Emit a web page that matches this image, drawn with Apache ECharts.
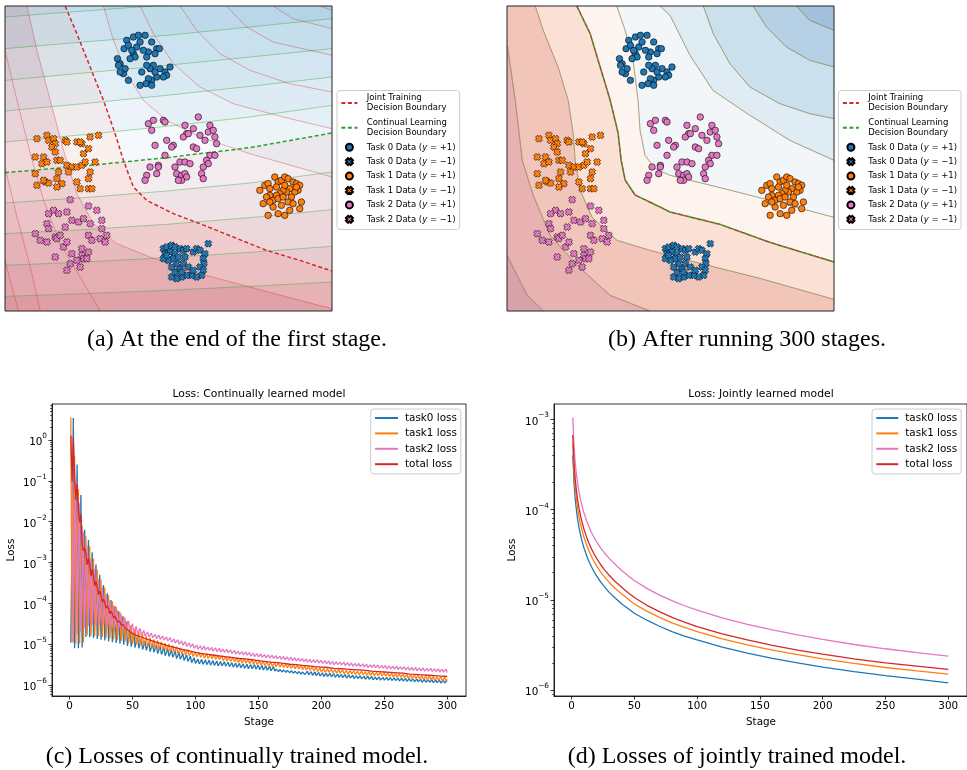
<!DOCTYPE html>
<html>
<head>
<meta charset="utf-8">
<script src="https://cdn.jsdelivr.net/npm/echarts@6/dist/echarts.min.js"></script>
<style>
html,body{margin:0;padding:0;background:#fff;}
#chart{width:967px;height:770px;}
</style>
</head>
<body>
<div id="chart"></div>
<script>
// ---------------- 2-D toy data (feature space, shared by panels a and b) ----------------
const task0Pos = [[3.52,1.75],[3.60,1.90],[3.72,1.45],[3.80,1.20],[3.85,1.35],[4.00,1.10],[4.15,1.05],[4.35,1.05],[4.55,1.25],[4.70,1.45],[4.78,1.45],[4.65,1.60],[4.45,1.55],[4.30,1.50],[4.10,1.40],[4.00,1.60],[4.05,1.70],[3.90,1.75],[4.40,1.70],[4.60,1.95],[4.80,2.05],[4.95,2.15],[5.10,2.00],[5.00,2.25],[4.90,2.30],[4.70,2.30],[4.55,2.40],[4.45,2.35],[4.38,2.50],[4.20,2.55],[4.55,2.55],[3.85,2.40],[3.70,2.20],[3.60,2.15],[3.75,2.05],[3.55,1.95],[4.25,2.15],[4.50,2.05],[4.65,2.15],[4.40,1.95],[3.95,1.50],[4.20,1.25]];
const task0Neg = [[4.90,7.45],[5.00,7.40],[5.15,7.35],[5.25,7.40],[5.40,7.45],[4.95,7.60],[5.10,7.55],[5.25,7.60],[5.50,7.50],[5.60,7.45],[5.80,7.55],[5.90,7.45],[6.00,7.50],[6.15,7.60],[6.25,7.30],[6.10,7.75],[6.12,7.90],[6.00,8.00],[6.10,8.10],[6.05,8.25],[5.90,8.30],[5.75,8.25],[5.60,8.25],[5.45,8.30],[5.30,8.35],[5.15,8.30],[5.25,8.15],[5.40,8.05],[5.50,7.90],[5.30,7.90],[5.15,8.00],[5.20,7.75],[5.05,7.80],[4.90,7.75],[5.35,7.70],[5.55,7.70],[5.65,8.00],[5.80,8.10],[5.45,8.15],[5.00,7.65]];
const task1Pos = [[7.80,5.70],[7.95,5.55],[8.05,5.50],[8.10,5.65],[8.25,5.30],[8.35,5.45],[8.45,5.40],[8.55,5.30],[8.65,5.35],[8.80,5.45],[8.90,5.50],[9.00,5.55],[8.95,5.70],[8.85,5.75],[8.70,5.65],[8.60,5.75],[8.50,5.70],[8.40,5.80],[8.30,5.85],[8.10,5.85],[8.00,5.90],[8.20,6.00],[8.35,5.95],[8.50,5.90],[8.75,5.90],[8.65,6.05],[8.80,6.10],[9.05,6.05],[9.00,6.25],[8.70,6.30],[8.55,6.45],[8.35,6.40],[8.05,6.45],[8.20,6.20],[8.45,6.15],[7.90,6.10],[8.10,6.05],[8.90,5.60],[8.55,5.55],[8.30,5.60]];
const task1Neg = [[1.10,4.15],[1.40,4.05],[1.45,4.20],[1.60,4.15],[1.65,4.30],[1.55,4.40],[1.65,4.55],[1.95,4.20],[2.00,4.25],[2.30,4.25],[2.45,4.30],[2.40,4.25],[2.70,4.10],[2.95,4.05],[2.65,4.45],[2.50,4.60],[1.05,4.70],[1.30,4.70],[1.25,4.90],[1.40,4.85],[1.70,4.80],[1.80,4.80],[2.00,4.95],[2.15,5.00],[2.30,5.00],[2.45,4.95],[2.55,4.85],[2.85,4.85],[2.70,5.15],[1.05,5.20],[1.35,5.45],[1.45,5.48],[1.70,5.35],[1.75,5.15],[1.85,5.50],[2.05,5.15],[2.30,5.45],[2.40,5.65],[2.65,5.65],[2.75,5.65],[1.10,5.55],[1.70,5.60],[1.30,5.40],[2.65,5.35]];
const task2Pos = [[4.45,3.70],[4.60,3.60],[4.55,3.90],[4.90,3.60],[4.95,3.65],[5.55,3.75],[5.95,3.50],[5.80,3.85],[5.60,4.00],[5.50,4.10],[5.65,4.00],[6.00,4.05],[6.15,4.20],[6.30,3.75],[6.25,3.95],[6.40,3.90],[6.45,4.10],[6.50,4.30],[6.30,4.65],[6.45,4.65],[6.20,4.80],[6.25,4.90],[6.10,5.00],[6.05,5.20],[6.10,5.35],[5.80,4.40],[5.90,4.45],[5.20,4.35],[5.00,4.20],[5.15,4.40],[4.65,4.35],[4.95,4.65],[4.75,4.95],[4.50,5.00],[4.40,5.25],[4.35,5.40],[4.70,5.20],[5.25,5.00],[5.40,4.85],[5.55,4.85],[5.70,4.90],[5.30,5.20],[5.45,5.25],[5.55,5.20],[5.60,5.30],[5.45,5.40],[5.35,5.40],[4.75,5.00]];
const task2Neg = [[2.10,5.98],[2.65,6.17],[2.90,6.30],[1.60,6.30],[1.75,6.40],[1.45,6.40],[2.00,6.35],[2.15,6.60],[2.35,6.65],[2.50,6.55],[2.70,6.70],[3.05,6.60],[1.40,6.70],[1.45,6.85],[1.95,6.80],[1.05,7.00],[1.20,7.20],[1.40,7.25],[1.65,7.10],[1.70,7.15],[1.90,7.40],[2.00,7.25],[2.15,7.60],[2.45,7.65],[2.65,7.55],[2.65,7.05],[2.75,7.20],[3.00,7.15],[3.05,6.85],[3.20,7.05],[3.15,7.25],[1.65,7.70],[2.10,7.90],[2.00,8.10],[2.40,8.00],[2.50,7.75],[2.30,7.80],[2.60,7.75],[2.45,7.45],[1.80,7.05]];

// ---------------- level sets after the first stage (panel a) ----------------
// continual model: nearly straight level lines, listed bottom -> top (index 4 = decision boundary)
const contLevelsA = [
  [[0.14,8.88],[2.5,8.80],[5,8.70],[7.5,8.58],[9.97,8.45]],
  [[0.14,7.95],[2.5,7.85],[5,7.72],[7.5,7.56],[9.97,7.38]],
  [[0.14,7.00],[2.5,6.88],[5,6.72],[7.5,6.52],[9.97,6.28]],
  [[0.14,6.08],[2.5,5.92],[5,5.72],[7.5,5.48],[9.97,5.15]],
  [[0.14,5.17],[2.5,4.97],[5,4.72],[7.5,4.42],[9.97,3.98]],
  [[0.14,4.25],[2.5,4.03],[5,3.78],[7.5,3.50],[9.97,3.15]],
  [[0.14,3.32],[2.5,3.10],[5,2.85],[7.5,2.58],[9.97,2.30]],
  [[0.14,2.40],[2.5,2.18],[5,1.95],[7.5,1.70],[9.97,1.45]],
  [[0.14,1.45],[2.5,1.25],[5,1.05],[7.5,0.80],[9.97,0.55]],
  [[0.14,0.50],[2.5,0.32],[5,0.14],[7.5,-0.05],[9.97,-0.30]]
];
const contBoundaryA = 4;
const contFillA = ['rgba(178,24,43,0.30)','rgba(178,24,43,0.24)','rgba(178,24,43,0.18)','rgba(178,24,43,0.12)','rgba(178,24,43,0.07)','rgba(247,247,247,0.2)','rgba(67,147,195,0.07)','rgba(67,147,195,0.13)','rgba(67,147,195,0.19)','rgba(67,147,195,0.26)','rgba(67,147,195,0.32)'];

// joint model: L-shaped level lines, listed bottom-left -> top-right (index 4 = decision boundary)
const jointLevelsA = [
  [[0.14,7.8],[0.4,8.8],[0.55,9.32]],
  [[0.14,5.0],[0.5,6.5],[0.9,8.0],[1.2,9.32]],
  [[0.14,1.5],[0.5,3.0],[0.9,4.6],[1.3,6.0],[1.8,7.3],[2.4,8.3],[3.0,9.32]],
  [[0.8,0.17],[1.1,1.5],[1.5,3.0],[1.9,4.5],[2.3,5.8],[2.8,6.7],[3.5,7.3],[4.5,7.7],[6.0,8.2],[7.5,8.6],[9.0,9.0],[9.97,9.25]],
  [[1.95,0.17],[2.3,1.0],[2.7,2.0],[3.1,3.0],[3.45,4.0],[3.7,4.8],[4.0,5.6],[4.4,6.0],[5.2,6.4],[6.0,6.7],[7.0,7.1],[8.0,7.5],[9.0,7.8],[9.97,8.12]],
  [[3.1,0.17],[3.4,1.2],[3.8,2.2],[4.3,3.0],[5.0,3.6],[6.0,4.1],[7.5,4.6],[9.97,5.3]],
  [[4.2,0.17],[4.6,1.0],[5.2,1.9],[6.0,2.6],[7.0,3.1],[8.5,3.5],[9.97,3.85]],
  [[5.4,0.17],[5.9,0.9],[6.6,1.6],[7.5,2.1],[8.7,2.5],[9.97,2.75]],
  [[6.8,0.17],[7.4,0.8],[8.2,1.25],[9.97,1.65]],
  [[8.2,0.17],[8.8,0.55],[9.97,0.85]],
  [[9.6,0.17],[9.97,0.3]]
];
const jointBoundaryA = 4;
const jointFillA = ['rgba(178,24,43,0.20)','rgba(178,24,43,0.18)','rgba(178,24,43,0.16)','rgba(178,24,43,0.15)','rgba(214,96,77,0.08)','rgba(209,229,240,0.15)','rgba(146,197,222,0.15)','rgba(146,197,222,0.22)','rgba(67,147,195,0.12)','rgba(67,147,195,0.15)','rgba(67,147,195,0.19)','rgba(67,147,195,0.22)'];

// ---------------- level sets after 300 stages (panel b, both models coincide) ----------------
const levelsB = [
  [[0.14,7.65],[0.75,8.85],[1.23,9.32]],
  [[0.15,1.35],[0.39,3.0],[0.6,4.8],[0.93,5.85],[1.44,7.05],[2.25,7.95],[3.24,8.85],[4.44,9.32]],
  [[0.99,0.17],[1.23,0.9],[1.68,2.01],[1.98,3.0],[2.13,3.99],[2.19,4.8],[2.34,5.7],[2.7,6.51],[3.45,7.2],[4.44,7.5],[5.94,7.89],[7.74,8.34],[9.97,8.97]],
  [[2.24,0.17],[2.64,1.0],[2.94,2.0],[3.24,2.99],[3.48,3.98],[3.57,4.79],[3.69,5.39],[3.99,5.84],[4.74,6.2],[5.04,6.35],[6.54,6.72],[8.04,7.26],[9.97,7.85]],
  [[3.44,0.17],[3.69,0.9],[3.93,1.8],[4.08,3.0],[4.14,3.9],[4.29,4.65],[4.59,5.04],[5.04,5.25],[6.63,5.64],[8.04,6.0],[9.97,6.51]],
  [[4.74,0.17],[5.04,0.45],[5.64,1.65],[6.33,2.7],[7.35,3.39],[8.64,4.2],[9.97,4.8]],
  [[6.04,0.17],[6.34,1.0],[6.84,1.9],[7.44,2.6],[8.34,3.1],[9.24,3.4],[9.97,3.55]],
  [[7.54,0.17],[7.94,0.8],[8.54,1.4],[9.24,1.8],[9.97,2.0]],
  [[8.84,0.17],[9.24,0.6],[9.97,0.9]]
];
const boundaryB = 3;
const fillB = ['#d8a2aa','#e7b2b1','#f2c5bb','#fbe0d6','#fdf4f0','#f2f6f9','#e0ecf4','#cbe0ed','#b6d1e5','#a3c1dc'];

// ---------------- loss curves: continual learning (log10 of loss, stages 1..300) ----------------
const task0LogCL = [
-4.96,-2.30,0.54,-5.10,-2.90,-0.60,-5.10,-3.30,-1.35,-5.08,-3.70,-2.20,-4.82,-3.70,-2.45,-4.83,-3.85,-2.75,-4.85,-4.00,-3.05,-4.87,-4.15,-3.30,-4.89,-4.25,-3.55,-4.91,-4.35,-3.75,
-4.93,-4.45,-3.92,-4.95,-4.52,-4.07,-4.97,-4.60,-4.20,-4.99,-4.67,-4.32,-5.01,-4.74,-4.45,-5.04,-4.82,-4.57,-5.06,-4.88,-4.68,-5.08,-4.94,-4.78,-5.10,-4.99,-4.86,-5.13,-5.03,-4.92,
-5.15,-5.05,-4.95,-5.18,-5.08,-4.98,-5.20,-5.11,-5.01,-5.23,-5.14,-5.05,-5.25,-5.17,-5.08,-5.28,-5.20,-5.11,-5.30,-5.22,-5.14,-5.32,-5.25,-5.17,-5.35,-5.28,-5.20,-5.37,-5.30,-5.23,
-5.40,-5.33,-5.26,-5.42,-5.36,-5.29,-5.45,-5.39,-5.33,-5.47,-5.42,-5.36,-5.48,-5.43,-5.37,-5.49,-5.44,-5.38,-5.50,-5.45,-5.39,-5.51,-5.46,-5.40,-5.52,-5.47,-5.41,-5.53,-5.48,-5.42,
-5.53,-5.48,-5.43,-5.54,-5.49,-5.44,-5.55,-5.50,-5.45,-5.56,-5.51,-5.46,-5.57,-5.52,-5.47,-5.58,-5.53,-5.48,-5.59,-5.54,-5.49,-5.60,-5.55,-5.50,-5.60,-5.55,-5.50,-5.61,-5.56,-5.51,
-5.62,-5.57,-5.52,-5.63,-5.58,-5.53,-5.64,-5.59,-5.54,-5.65,-5.60,-5.55,-5.66,-5.61,-5.57,-5.67,-5.62,-5.58,-5.68,-5.63,-5.59,-5.69,-5.64,-5.60,-5.70,-5.65,-5.61,-5.71,-5.66,-5.62,
-5.72,-5.67,-5.63,-5.73,-5.68,-5.64,-5.74,-5.70,-5.66,-5.75,-5.71,-5.67,-5.76,-5.72,-5.68,-5.77,-5.73,-5.69,-5.78,-5.74,-5.70,-5.79,-5.75,-5.71,-5.79,-5.75,-5.71,-5.80,-5.76,-5.72,
-5.81,-5.77,-5.73,-5.81,-5.77,-5.74,-5.82,-5.78,-5.74,-5.83,-5.79,-5.75,-5.83,-5.79,-5.76,-5.84,-5.80,-5.77,-5.84,-5.80,-5.77,-5.85,-5.81,-5.78,-5.86,-5.82,-5.78,-5.86,-5.82,-5.79,
-5.87,-5.83,-5.80,-5.87,-5.83,-5.80,-5.88,-5.84,-5.81,-5.88,-5.84,-5.81,-5.88,-5.85,-5.82,-5.89,-5.85,-5.82,-5.89,-5.86,-5.83,-5.90,-5.86,-5.83,-5.90,-5.87,-5.84,-5.91,-5.87,-5.84,
-5.91,-5.88,-5.85,-5.92,-5.88,-5.85,-5.92,-5.89,-5.86,-5.93,-5.89,-5.86,-5.93,-5.90,-5.87,-5.93,-5.90,-5.87,-5.94,-5.91,-5.88,-5.94,-5.91,-5.88,-5.95,-5.92,-5.89,-5.95,-5.92,-5.89
];
const task1LogCL = [0.55,
-4.96,-2.00,-0.40,-4.98,-2.60,-1.20,-4.98,-3.20,-2.10,-4.96,-3.50,-2.35,-4.78,-3.60,-2.60,-4.79,-3.75,-2.90,-4.80,-3.90,-3.18,-4.81,-4.05,-3.42,-4.82,-4.15,-3.62,-4.84,-4.25,-3.80,
-4.86,-4.35,-3.95,-4.88,-4.45,-4.08,-4.90,-4.53,-4.20,-4.92,-4.60,-4.32,-4.94,-4.67,-4.43,-4.96,-4.74,-4.53,-4.98,-4.80,-4.62,-5.00,-4.85,-4.69,-5.02,-4.89,-4.75,-5.04,-4.92,-4.80,
-5.06,-4.95,-4.84,-5.08,-4.98,-4.88,-5.10,-5.01,-4.91,-5.12,-5.03,-4.94,-5.14,-5.06,-4.97,-5.16,-5.08,-5.00,-5.18,-5.11,-5.03,-5.20,-5.13,-5.06,-5.22,-5.16,-5.09,-5.24,-5.18,-5.12,
-5.26,-5.20,-5.14,-5.28,-5.23,-5.17,-5.30,-5.25,-5.19,-5.31,-5.26,-5.21,-5.32,-5.27,-5.22,-5.34,-5.29,-5.23,-5.35,-5.30,-5.25,-5.36,-5.31,-5.26,-5.37,-5.32,-5.27,-5.38,-5.33,-5.28,
-5.40,-5.35,-5.30,-5.41,-5.36,-5.31,-5.42,-5.37,-5.32,-5.43,-5.39,-5.34,-5.45,-5.40,-5.35,-5.46,-5.41,-5.36,-5.47,-5.42,-5.37,-5.48,-5.43,-5.38,-5.49,-5.45,-5.40,-5.50,-5.46,-5.41,
-5.51,-5.47,-5.42,-5.52,-5.48,-5.43,-5.53,-5.49,-5.44,-5.54,-5.50,-5.45,-5.55,-5.51,-5.46,-5.56,-5.52,-5.47,-5.57,-5.53,-5.48,-5.58,-5.54,-5.49,-5.59,-5.55,-5.50,-5.60,-5.56,-5.51,
-5.61,-5.57,-5.52,-5.62,-5.58,-5.53,-5.63,-5.59,-5.54,-5.64,-5.60,-5.55,-5.65,-5.61,-5.56,-5.67,-5.63,-5.58,-5.68,-5.64,-5.59,-5.69,-5.65,-5.60,-5.69,-5.65,-5.61,-5.70,-5.66,-5.62,
-5.71,-5.67,-5.62,-5.71,-5.67,-5.63,-5.72,-5.68,-5.64,-5.73,-5.69,-5.64,-5.73,-5.69,-5.65,-5.74,-5.70,-5.66,-5.75,-5.71,-5.66,-5.75,-5.71,-5.67,-5.76,-5.72,-5.67,-5.76,-5.72,-5.68,
-5.77,-5.73,-5.69,-5.77,-5.73,-5.69,-5.78,-5.74,-5.70,-5.78,-5.74,-5.70,-5.79,-5.75,-5.71,-5.80,-5.76,-5.72,-5.81,-5.77,-5.72,-5.81,-5.77,-5.73,-5.82,-5.78,-5.74,-5.83,-5.79,-5.75,
-5.84,-5.80,-5.75,-5.84,-5.80,-5.76,-5.85,-5.81,-5.77,-5.86,-5.82,-5.78,-5.86,-5.82,-5.78,-5.87,-5.83,-5.79,-5.88,-5.84,-5.80,-5.88,-5.84,-5.80,-5.89,-5.85,-5.81,
-5.90,-5.86
];
const task2LogCL = [-0.50,-0.55,
-4.96,-2.20,-1.00,-4.75,-2.80,-1.55,-4.70,-3.30,-2.25,-4.60,-3.50,-2.60,-4.55,-3.65,-2.90,-4.52,-3.80,-3.15,-4.52,-3.95,-3.40,-4.52,-4.05,-3.60,-4.53,-4.15,-3.78,-4.55,-4.25,-3.92,
-4.57,-4.32,-4.05,-4.59,-4.38,-4.16,-4.61,-4.44,-4.26,-4.63,-4.49,-4.35,-4.66,-4.55,-4.43,-4.69,-4.60,-4.50,-4.72,-4.64,-4.56,-4.75,-4.68,-4.61,-4.78,-4.72,-4.66,-4.80,-4.75,-4.70,
-4.82,-4.78,-4.73,-4.84,-4.80,-4.76,-4.86,-4.82,-4.78,-4.88,-4.84,-4.80,-4.90,-4.86,-4.82,-4.92,-4.88,-4.84,-4.95,-4.91,-4.87,-4.97,-4.93,-4.89,-5.00,-4.96,-4.92,-5.02,-4.98,-4.94,
-5.05,-5.01,-4.97,-5.07,-5.03,-4.99,-5.10,-5.06,-5.02,-5.12,-5.08,-5.04,-5.13,-5.09,-5.05,-5.14,-5.10,-5.07,-5.15,-5.11,-5.08,-5.17,-5.13,-5.09,-5.18,-5.14,-5.10,-5.19,-5.15,-5.12,
-5.20,-5.16,-5.13,-5.21,-5.17,-5.14,-5.23,-5.19,-5.15,-5.24,-5.20,-5.17,-5.25,-5.21,-5.18,-5.26,-5.22,-5.19,-5.27,-5.23,-5.20,-5.29,-5.25,-5.22,-5.30,-5.26,-5.23,-5.31,-5.27,-5.24,
-5.32,-5.28,-5.25,-5.33,-5.29,-5.26,-5.34,-5.30,-5.27,-5.35,-5.31,-5.28,-5.36,-5.32,-5.29,-5.37,-5.33,-5.30,-5.38,-5.34,-5.31,-5.39,-5.35,-5.32,-5.40,-5.36,-5.33,-5.41,-5.37,-5.34,
-5.42,-5.38,-5.35,-5.43,-5.39,-5.36,-5.44,-5.40,-5.37,-5.45,-5.41,-5.38,-5.45,-5.41,-5.38,-5.46,-5.42,-5.39,-5.47,-5.43,-5.40,-5.48,-5.44,-5.41,-5.49,-5.45,-5.42,-5.50,-5.46,-5.43,
-5.50,-5.47,-5.44,-5.51,-5.47,-5.44,-5.52,-5.48,-5.45,-5.53,-5.49,-5.46,-5.54,-5.50,-5.47,-5.54,-5.50,-5.47,-5.55,-5.51,-5.48,-5.56,-5.52,-5.49,-5.57,-5.53,-5.50,-5.57,-5.53,-5.50,
-5.58,-5.54,-5.51,-5.59,-5.55,-5.52,-5.59,-5.55,-5.52,-5.60,-5.56,-5.53,-5.61,-5.57,-5.54,-5.61,-5.57,-5.54,-5.62,-5.58,-5.55,-5.62,-5.58,-5.55,-5.63,-5.59,-5.56,-5.64,-5.60,-5.57,
-5.64,-5.60,-5.57,-5.65,-5.61,-5.58,-5.65,-5.61,-5.58,-5.66,-5.62,-5.59,-5.66,-5.62,-5.59,-5.67,-5.63,-5.60,-5.67,-5.63,-5.60,-5.68,-5.64,-5.61,-5.68,-5.64,-5.61,
-5.69
];
// total loss: every stage up to 45, then every 5 stages
const totalStagesCL = [1,2,3,4,5,6,7,8,9,10,11,12,13,14,15,16,17,18,19,20,21,22,23,24,25,26,27,28,29,30,31,32,33,34,35,36,37,38,39,40,41,42,43,44,45,
50,55,60,65,70,75,80,85,90,95,100,105,110,115,120,125,130,135,140,145,150,155,160,165,170,175,180,185,190,195,200,205,210,215,220,225,230,235,240,245,250,255,260,265,270,275,280,285,290,295,300];
const totalLogCL = [0.11,-1.02,0.07,-0.87,-1.47,-1.07,-1.67,-2.02,-1.82,-2.55,-2.71,-2.65,-2.79,-3.05,-2.90,-3.04,-3.33,-3.17,-3.32,-3.57,-3.46,-3.58,-3.79,-3.69,-3.79,-3.97,-3.90,-3.97,-4.12,-4.06,-4.12,-4.25,-4.19,-4.25,-4.36,-4.31,-4.35,-4.45,-4.41,-4.44,-4.53,-4.49,-4.52,-4.60,-4.58,
-4.74,-4.80,-4.86,-4.91,-4.96,-5.01,-5.05,-5.09,-5.13,-5.16,-5.20,-5.23,-5.25,-5.27,-5.29,-5.31,-5.33,-5.35,-5.36,-5.38,-5.40,-5.42,-5.44,-5.45,-5.47,-5.49,-5.50,-5.52,-5.53,-5.55,-5.56,-5.57,-5.59,-5.60,-5.61,-5.62,-5.63,-5.64,-5.66,-5.67,-5.68,-5.69,-5.70,-5.71,-5.73,-5.74,-5.75,-5.76,-5.77,-5.78,-5.79];

// ---------------- loss curves: joint training ----------------
const jointStages = [1,2,3,4,5,6,7,8,9,10,12,14,16,18,20,23,26,30,35,40,45,50,60,70,80,90,100,120,140,160,180,200,225,250,275,300];
const task0Joint = [4.0e-4,1.96e-4,1.29e-4,9.6e-5,7.6e-5,6.3e-5,5.4e-5,4.7e-5,4.15e-5,3.73e-5,3.1e-5,2.64e-5,2.31e-5,2.05e-5,1.84e-5,1.59e-5,1.41e-5,1.21e-5,1.04e-5,9.0e-6,8.0e-6,7.1e-6,5.95e-6,5.1e-6,4.45e-6,3.97e-6,3.6e-6,3.0e-6,2.57e-6,2.25e-6,2.0e-6,1.8e-6,1.6e-6,1.45e-6,1.32e-6,1.2e-6];
const task1Joint = [5.4e-4,2.62e-4,1.72e-4,1.27e-4,1.0e-4,8.3e-5,7.1e-5,6.2e-5,5.5e-5,4.9e-5,4.05e-5,3.45e-5,3.0e-5,2.65e-5,2.38e-5,2.06e-5,1.81e-5,1.56e-5,1.33e-5,1.16e-5,1.02e-5,9.0e-6,7.5e-6,6.4e-6,5.55e-6,4.95e-6,4.45e-6,3.7e-6,3.17e-6,2.78e-6,2.47e-6,2.22e-6,1.98e-6,1.78e-6,1.63e-6,1.5e-6];
const task2Joint = [1.05e-3,5.0e-4,3.25e-4,2.4e-4,1.9e-4,1.56e-4,1.33e-4,1.16e-4,1.02e-4,9.1e-5,7.5e-5,6.4e-5,5.55e-5,4.9e-5,4.4e-5,3.8e-5,3.35e-5,2.88e-5,2.45e-5,2.12e-5,1.85e-5,1.64e-5,1.34e-5,1.13e-5,9.8e-6,8.6e-6,7.7e-6,6.3e-6,5.35e-6,4.65e-6,4.1e-6,3.65e-6,3.2e-6,2.87e-6,2.6e-6,2.38e-6];
const totalJoint = [6.7e-4,3.25e-4,2.13e-4,1.58e-4,1.25e-4,1.03e-4,8.8e-5,7.6e-5,6.75e-5,6.0e-5,4.95e-5,4.2e-5,3.65e-5,3.22e-5,2.88e-5,2.48e-5,2.18e-5,1.87e-5,1.59e-5,1.38e-5,1.2e-5,1.06e-5,8.7e-6,7.4e-6,6.4e-6,5.65e-6,5.05e-6,4.2e-6,3.6e-6,3.13e-6,2.78e-6,2.5e-6,2.22e-6,2.0e-6,1.84e-6,1.7e-6];

const stageTicks = [0,50,100,150,200,250,300];
const decadeTicksCL = [-6,-5,-4,-3,-2,-1,0];
const decadeTicksJoint = [-6,-5,-4,-3];

// ---------------- helpers ----------------
const FONT = 'DejaVu Sans';
const BLUE = '#1f77b4', ORANGE = '#ff7f0e', PINK = '#e377c2', RED = '#d62728', GREEN = '#2ca02c';
const X_MARK = 'path://M3,0L5,2L7,0L10,3L8,5L10,7L7,10L5,8L3,10L0,7L2,5L0,3Z';

// route a level line far outside the plot so neighbouring lines close into bands
function routeLine(pts) {
  const out = [];
  const [x0, y0] = pts[0];
  if (y0 <= 0.2) out.push([x0, -3]); else out.push([-3, -3], [-3, y0]);
  out.push(...pts);
  const [x1, y1] = pts[pts.length - 1];
  if (x1 >= 9.9) out.push([13, y1]); else out.push([x1, 13], [13, 13]);
  return out;
}
function bandPolygons(lines) {
  const r = lines.map(routeLine);
  const polys = [r[0].concat([[13, 13], [-3, 13]])];
  for (let i = 1; i < r.length; i++) polys.push(r[i - 1].concat(r[i].slice().reverse()));
  polys.push(r[r.length - 1].concat([[13, -3]]));
  return polys;
}
function clipPoly(pts, r) {
  const x0 = r.x, x1 = r.x + r.width, y0 = r.y, y1 = r.y + r.height;
  const planes = [
    [p => p[0] >= x0, (a, b) => [x0, a[1] + (x0 - a[0]) / (b[0] - a[0]) * (b[1] - a[1])]],
    [p => p[0] <= x1, (a, b) => [x1, a[1] + (x1 - a[0]) / (b[0] - a[0]) * (b[1] - a[1])]],
    [p => p[1] >= y0, (a, b) => [a[0] + (y0 - a[1]) / (b[1] - a[1]) * (b[0] - a[0]), y0]],
    [p => p[1] <= y1, (a, b) => [a[0] + (y1 - a[1]) / (b[1] - a[1]) * (b[0] - a[0]), y1]]
  ];
  let out = pts;
  for (const [inside, cut] of planes) {
    const inp = out; out = [];
    for (let i = 0; i < inp.length; i++) {
      const cur = inp[i], prev = inp[(i + inp.length - 1) % inp.length];
      const ci = inside(cur), pi = inside(prev);
      if (ci) { if (!pi) out.push(cut(prev, cur)); out.push(cur); }
      else if (pi) out.push(cut(prev, cur));
    }
    if (!out.length) break;
  }
  return out;
}
function bandSeries(gi, lines, colors, z) {
  const polys = bandPolygons(lines);
  return {
    type: 'custom', xAxisIndex: gi, yAxisIndex: gi, silent: true, z: z,
    data: polys.map(p => p[0]),
    renderItem: function (params, api) {
      const poly = polys[params.dataIndex];
      const pts = clipPoly(poly.map(p => api.coord(p)), params.coordSys);
      if (pts.length < 3) return null;
      return { type: 'polygon', shape: { points: pts }, style: { fill: colors[params.dataIndex] } };
    }
  };
}
function strokeSeries(gi, pts, color, width, z, dash, name, dashOffset) {
  const s = {
    type: 'line', xAxisIndex: gi, yAxisIndex: gi, data: pts, symbol: 'none', silent: true, z: z,
    clip: true, lineStyle: { color: color, width: width, type: dash || 'solid' }, itemStyle: { color: color }
  };
  if (dashOffset) s.lineStyle.dashOffset = dashOffset;
  if (name) s.name = name;
  return s;
}
function scatterSeries(gi, name, pts, color, symbol) {
  return {
    type: 'scatter', name: name, xAxisIndex: gi, yAxisIndex: gi, data: pts, symbol: symbol,
    symbolSize: symbol === 'circle' ? 6.5 : 7, silent: true, z: 6,
    itemStyle: { color: color, borderColor: '#000', borderWidth: 0.6, opacity: 1 }
  };
}
const JT = 'Joint Training\nDecision Boundary';
const CLB = 'Continual Learning\nDecision Boundary';
const dataNames = ['Task 0 Data (y = +1)', 'Task 0 Data (y = \u22121)', 'Task 1 Data (y = +1)', 'Task 1 Data (y = \u22121)', 'Task 2 Data (y = +1)', 'Task 2 Data (y = \u22121)'];
function scatterSet(gi) {
  return [
    scatterSeries(gi, dataNames[0], task0Pos, BLUE, 'circle'),
    scatterSeries(gi, dataNames[1], task0Neg, BLUE, X_MARK),
    scatterSeries(gi, dataNames[2], task1Pos, ORANGE, 'circle'),
    scatterSeries(gi, dataNames[3], task1Neg, ORANGE, X_MARK),
    scatterSeries(gi, dataNames[4], task2Pos, PINK, 'circle'),
    scatterSeries(gi, dataNames[5], task2Neg, PINK, X_MARK)
  ];
}

const series = [];
// panel a
series.push(bandSeries(0, contLevelsA, contFillA, 1));
series.push(bandSeries(0, jointLevelsA, jointFillA, 1));
contLevelsA.forEach((l, i) => { if (i !== contBoundaryA) series.push(strokeSeries(0, l, 'rgba(44,160,44,0.5)', 0.8, 3)); });
jointLevelsA.forEach((l, i) => { if (i !== jointBoundaryA) series.push(strokeSeries(0, l, 'rgba(214,39,40,0.45)', 0.8, 3)); });
series.push(strokeSeries(0, jointLevelsA[jointBoundaryA], RED, 1.5, 4, [4, 2.5], JT));
series.push(strokeSeries(0, contLevelsA[contBoundaryA], GREEN, 1.5, 4, [4, 2.5], CLB));
series.push(...scatterSet(0));
// panel b
series.push(bandSeries(1, levelsB, fillB, 1));
levelsB.forEach((l, i) => {
  if (i !== boundaryB) {
    series.push(strokeSeries(1, l, 'rgba(214,39,40,0.45)', 0.8, 3));
    series.push(strokeSeries(1, l, 'rgba(44,160,44,0.45)', 0.8, 3));
  }
});
series.push(strokeSeries(1, levelsB[boundaryB], RED, 1.5, 4, [4, 2.5], JT));
series.push(strokeSeries(1, levelsB[boundaryB], GREEN, 1.5, 4, [4, 2.5], CLB, 3));
series.push(...scatterSet(1));

// panel c: continual losses
const pow10 = v => Math.pow(10, v);
function lossLine(xi, yi, name, color, data) {
  return { type: 'line', name: name, xAxisIndex: xi, yAxisIndex: yi, data: data, symbol: 'none', silent: true,
    lineStyle: { color: color, width: 1.3 }, itemStyle: { color: color }, z: 3, clip: true };
}
series.push(lossLine(2, 2, 'task0 loss', BLUE, task0LogCL.map((v, i) => [i + 1, pow10(v)])));
series.push(lossLine(2, 2, 'task1 loss', ORANGE, task1LogCL.map((v, i) => [i + 1, pow10(v)])));
series.push(lossLine(2, 2, 'task2 loss', PINK, task2LogCL.map((v, i) => [i + 1, pow10(v)])));
series.push(lossLine(2, 2, 'total loss', RED, totalLogCL.map((v, i) => [totalStagesCL[i], pow10(v)])));
// panel d: joint losses
function jointLine(name, color, vals) {
  return lossLine(3, 5, name, color, vals.map((v, i) => [jointStages[i], v]));
}
series.push(jointLine('task0 loss', BLUE, task0Joint));
series.push(jointLine('task1 loss', ORANGE, task1Joint));
series.push(jointLine('task2 loss', PINK, task2Joint));
series.push(jointLine('total loss', RED, totalJoint));

// axes
const hidden = { show: false };
function featAxis(gi, isY) {
  return isY ? { type: 'value', gridIndex: gi, min: 0.17, max: 9.32, inverse: true, show: false }
             : { type: 'value', gridIndex: gi, min: 0.14, max: 9.97, show: false };
}
const tickStyle = { color: '#000', width: 0.8 };
function stageAxis(gi) {
  return {
    type: 'value', gridIndex: gi, min: -13.95, max: 314.95, position: 'bottom',
    axisLine: { show: true, onZero: false, lineStyle: tickStyle },
    axisTick: { show: true, length: 3.5, inside: false, lineStyle: tickStyle, customValues: stageTicks },
    axisLabel: { show: true, customValues: stageTicks, margin: 5, color: '#000', fontFamily: FONT, fontSize: 10.4 },
    splitLine: hidden
  };
}
const supRich = {
  b: { fontFamily: FONT, fontSize: 10.4, color: '#000', lineHeight: 15, verticalAlign: 'bottom' },
  s: { fontFamily: FONT, fontSize: 7.3, color: '#000', lineHeight: 15, verticalAlign: 'top' }
};
function decadeLabel(v) {
  const e = Math.round(v);
  return '{b|10}{s|' + (e < 0 ? '\u2212' + (-e) : String(e)) + '}';
}
function minorList(lo, hi) {
  const out = [];
  for (let e = Math.floor(lo); e <= Math.ceil(hi); e++) {
    for (let k = 2; k <= 9; k++) { const v = e + Math.log10(k); if (v > lo && v < hi) out.push(v); }
  }
  return out;
}
function logAxes(gi, lo, hi, majors) {
  const llo = Math.log10(lo), lhi = Math.log10(hi);
  return [
    { type: 'log', logBase: 10, gridIndex: gi, min: lo, max: hi, show: false },
    { type: 'value', gridIndex: gi, min: llo, max: lhi, position: 'left',
      axisLine: { show: true, onZero: false, lineStyle: tickStyle },
      axisTick: { show: true, length: 3.5, inside: false, lineStyle: tickStyle, customValues: majors },
      axisLabel: { show: true, customValues: majors, margin: 5, formatter: decadeLabel, rich: supRich },
      splitLine: hidden },
    { type: 'value', gridIndex: gi, min: llo, max: lhi, position: 'left',
      axisLine: { show: false, onZero: false }, axisLabel: hidden, splitLine: hidden,
      axisTick: { show: true, length: 2, inside: false, lineStyle: { color: '#000', width: 0.6 }, customValues: minorList(llo, lhi) } }
  ];
}

const noMark = { opacity: 0 };
const topLegendBase = {
  orient: 'vertical', top: 90.5, itemWidth: 16, itemHeight: 7, itemGap: 4, padding: [2, 4, 5, 3.4],
  backgroundColor: 'rgba(255,255,255,0.85)', borderColor: '#cccccc', borderWidth: 1, borderRadius: 3,
  selectedMode: false, symbolKeepAspect: true,
  data: [{ name: JT, itemStyle: noMark }, { name: CLB, itemStyle: noMark }].concat(dataNames.map(n => ({ name: n }))),
  formatter: name => name.replace('(y =', '({i|y} ='),
  textStyle: { fontFamily: FONT, fontSize: 8.5, lineHeight: 10.4, color: '#000', padding: [0, 0, 0, 4.3],
    rich: { i: { fontFamily: FONT, fontSize: 8.5, fontStyle: 'italic', color: '#000' } } }
};
const lossLegendBase = {
  orient: 'vertical', top: 409, itemHeight: 10, itemGap: 3.4, padding: [3, 4, 3.7, 3.3],
  backgroundColor: 'rgba(255,255,255,0.85)', borderColor: '#cccccc', borderWidth: 1, borderRadius: 3,
  selectedMode: false, itemStyle: noMark,
  data: ['task0 loss', 'task1 loss', 'task2 loss', 'total loss'].map(n => ({ name: n, itemStyle: noMark })),
  textStyle: { fontFamily: FONT, fontSize: 10.4, lineHeight: 12, color: '#000', padding: [0, 0, 0, 2] }
};

function txt(x, y, text, size, family, rot) {
  return { type: 'text', x: x, y: y, rotation: rot || 0, silent: true,
    style: { text: text, fontSize: size, fontFamily: family || FONT, fill: '#000', align: 'center', verticalAlign: 'middle' } };
}
const SERIF = 'Liberation Serif';

const option = {
  animation: false,
  backgroundColor: '#fff',
  grid: [
    { left: 5, top: 6, width: 327, height: 305, show: true, z: 10, backgroundColor: 'transparent', borderColor: '#222', borderWidth: 1 },
    { left: 507, top: 6, width: 327, height: 305, show: true, z: 10, backgroundColor: 'transparent', borderColor: '#222', borderWidth: 1 },
    { left: 52, top: 404, width: 414, height: 292, show: true, z: 10, backgroundColor: 'transparent', borderColor: '#000', borderWidth: 0.8 },
    { left: 554, top: 404, width: 414, height: 292, show: true, z: 10, backgroundColor: 'transparent', borderColor: '#000', borderWidth: 0.8 }
  ],
  xAxis: [featAxis(0, false), featAxis(1, false), stageAxis(2), stageAxis(3)],
  yAxis: [featAxis(0, true), featAxis(1, true)]
    .concat(logAxes(2, 5.4e-7, 7.6, decadeTicksCL))
    .concat(logAxes(3, 8.6e-7, 1.48e-3, decadeTicksJoint)),
  legend: [
    Object.assign({}, topLegendBase, { left: 337 }),
    Object.assign({}, topLegendBase, { left: 838.5 }),
    Object.assign({}, lossLegendBase, { left: 370.7, itemWidth: 23 }),
    Object.assign({}, lossLegendBase, { left: 872, itemWidth: 22 })
  ],
  graphic: [
    txt(259, 394, 'Loss: Continually learned model', 10.8),
    txt(761, 394, 'Loss: Jointly learned model', 10.8),
    txt(259, 722, 'Stage', 10.4),
    txt(761, 722, 'Stage', 10.4),
    txt(11, 550, 'Loss', 10.4, FONT, Math.PI / 2),
    txt(512, 550, 'Loss', 10.4, FONT, Math.PI / 2),
    txt(237, 340, '(a) At the end of the first stage.', 24, SERIF),
    txt(747, 340, '(b) After running 300 stages.', 24, SERIF),
    txt(237, 757, '(c) Losses of continually trained model.', 24, SERIF),
    txt(737, 757, '(d) Losses of jointly trained model.', 24, SERIF)
  ],
  series: series
};

const chart = echarts.init(document.getElementById('chart'), null, { renderer: 'canvas', width: 967, height: 770 });
chart.setOption(option);
</script>
</body>
</html>
